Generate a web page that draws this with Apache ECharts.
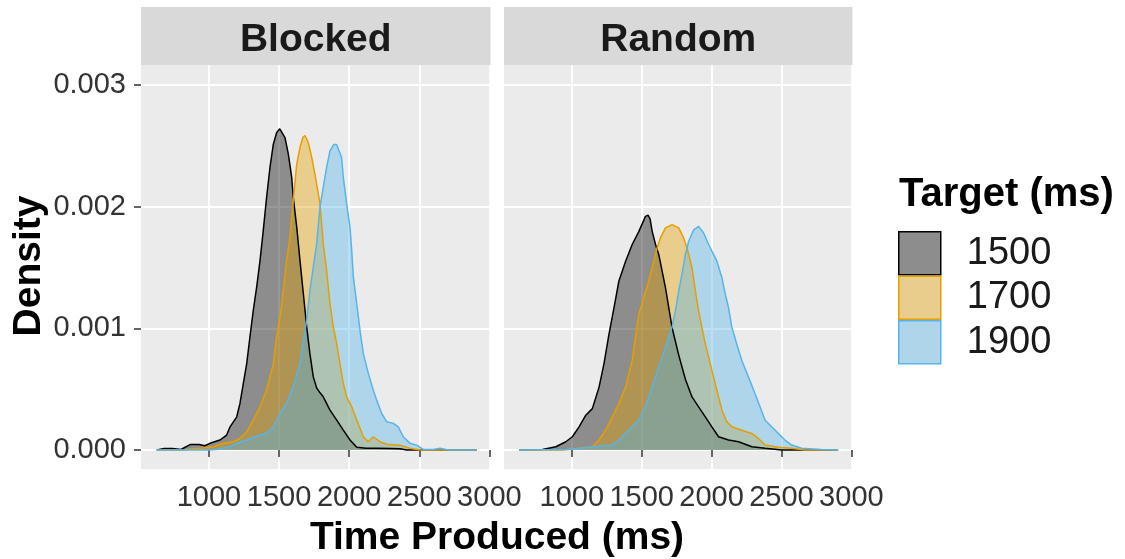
<!DOCTYPE html>
<html>
<head>
<meta charset="utf-8">
<script src="https://cdn.jsdelivr.net/npm/echarts@6/dist/echarts.min.js"></script>
<style>
  html, body { margin: 0; padding: 0; background: #fff; }
  #chart { width: 1125px; height: 559px; }
</style>
</head>
<body>
<div id="chart"></div>
<script>
// facets, targets, ticks
var facets = ['Blocked', 'Random'];
var targets = ['1500', '1700', '1900'];
var xTicks = [1000, 1500, 2000, 2500, 3000];
var yTicks = [0, 0.001, 0.002, 0.003];

// Blocked, target 1500
var xB1500 = [627, 680, 740, 800, 865, 930, 970, 1007, 1078, 1126, 1150, 1198, 1221, 1245, 1269, 1292, 1316, 1340, 1364, 1387, 1411, 1435, 1459, 1483, 1505, 1519, 1542, 1566, 1590, 1601, 1626, 1649, 1673, 1697, 1720, 1744, 1768, 1792, 1815, 1863, 1911, 1958, 2006, 2054, 2120, 2196, 2290, 2362, 2410, 2910];
var dB1500 = [0, 0.000012, 0.000012, 0.000004, 0.000045, 0.000045, 0.000035, 0.000055, 0.000082, 0.000123, 0.00019, 0.000273, 0.000383, 0.000547, 0.00071, 0.000929, 0.001148, 0.001339, 0.001557, 0.001803, 0.002077, 0.002322, 0.002514, 0.002609, 0.00264, 0.00263, 0.002568, 0.002432, 0.00224, 0.002077, 0.00183, 0.001557, 0.001284, 0.001011, 0.00079, 0.000601, 0.00051, 0.00047, 0.000437, 0.000328, 0.000246, 0.000164, 0.000082, 0.000022, 0.000015, 0.000015, 0.000012, 0.00001, 0, 0];

// Blocked, target 1700
var xB1700 = [627, 817, 870, 936, 1031, 1102, 1173, 1221, 1269, 1316, 1364, 1411, 1459, 1483, 1507, 1530, 1554, 1578, 1601, 1626, 1649, 1670, 1685, 1708, 1733, 1755, 1768, 1792, 1815, 1839, 1863, 1887, 1911, 1934, 1958, 1982, 2018, 2054, 2101, 2137, 2172, 2220, 2268, 2362, 2434, 2505, 2910];
var dB1700 = [0, 0, 0.000008, 0.000014, 0.000027, 0.000055, 0.000068, 0.000096, 0.00015, 0.000246, 0.000355, 0.000492, 0.00071, 0.000929, 0.001093, 0.001311, 0.001557, 0.001749, 0.002049, 0.00235, 0.002486, 0.00257, 0.002585, 0.002527, 0.002404, 0.00227, 0.002186, 0.002022, 0.001694, 0.001475, 0.001202, 0.001011, 0.000874, 0.00071, 0.000547, 0.000437, 0.000355, 0.000246, 0.000109, 0.000068, 0.000109, 0.000068, 0.000047, 0.00004, 0.000014, 0, 0];

// Blocked, target 1900
var xB1900 = [627, 1000, 1055, 1150, 1198, 1269, 1364, 1411, 1459, 1507, 1554, 1601, 1649, 1673, 1697, 1720, 1744, 1768, 1780, 1792, 1815, 1839, 1863, 1890, 1910, 1922, 1946, 1958, 1982, 2006, 2018, 2030, 2054, 2077, 2101, 2137, 2172, 2196, 2232, 2268, 2315, 2350, 2386, 2434, 2481, 2529, 2600, 2648, 2690, 2719, 2910];
var dB1900 = [0, 0, 0.000005, 0.000027, 0.000055, 0.000082, 0.000123, 0.000137, 0.00019, 0.0003, 0.000383, 0.000519, 0.00071, 0.000902, 0.001066, 0.001311, 0.001503, 0.001694, 0.00185, 0.002, 0.002158, 0.002322, 0.002459, 0.00251, 0.00251, 0.0025, 0.002404, 0.00224, 0.002022, 0.00183, 0.001639, 0.00142, 0.001202, 0.000984, 0.000792, 0.000628, 0.000492, 0.00041, 0.0003, 0.000232, 0.000219, 0.00019, 0.000109, 0.000055, 0.00004, 0.000005, 0.000005, 0.000014, 0.000005, 0, 0];

// Random, target 1500
var xR1500 = [624, 790, 886, 957, 1004, 1052, 1100, 1147, 1195, 1230, 1266, 1302, 1337, 1385, 1432, 1480, 1527, 1545, 1560, 1575, 1599, 1622, 1670, 1717, 1765, 1813, 1860, 1907, 1955, 2002, 2050, 2121, 2193, 2288, 2383, 2501, 2905];
var dR1500 = [0, 0.000005, 0.000027, 0.000068, 0.000109, 0.00019, 0.000286, 0.00034, 0.000517, 0.000708, 0.000953, 0.001171, 0.001389, 0.001552, 0.001689, 0.001797, 0.00192, 0.00193, 0.0019, 0.001797, 0.001689, 0.001607, 0.001334, 0.001007, 0.00078, 0.00058, 0.000436, 0.000354, 0.000272, 0.00019, 0.000109, 0.000082, 0.000068, 0.000027, 0.000014, 0, 0];

// Random, target 1700
var xR1700 = [624, 933, 1052, 1147, 1195, 1242, 1290, 1337, 1385, 1432, 1456, 1480, 1515, 1551, 1587, 1610, 1634, 1670, 1717, 1765, 1800, 1824, 1860, 1884, 1907, 1931, 1955, 1979, 2002, 2026, 2050, 2074, 2109, 2145, 2216, 2288, 2335, 2383, 2478, 2573, 2668, 2905];
var dR1700 = [0, 0, 0.000014, 0.000027, 0.000082, 0.000163, 0.000272, 0.000381, 0.000517, 0.000735, 0.000926, 0.001117, 0.001253, 0.001389, 0.001552, 0.001661, 0.001743, 0.001825, 0.001852, 0.001825, 0.001743, 0.001661, 0.001498, 0.001307, 0.001144, 0.001008, 0.000871, 0.000763, 0.000654, 0.000545, 0.000436, 0.000327, 0.000231, 0.000191, 0.000163, 0.000136, 0.000095, 0.000041, 0.000022, 0.000014, 0, 0];

// Random, target 1900
var xR1900 = [624, 981, 1171, 1290, 1337, 1385, 1432, 1480, 1527, 1575, 1622, 1670, 1717, 1741, 1765, 1789, 1813, 1836, 1872, 1907, 1943, 1979, 2002, 2038, 2074, 2098, 2121, 2145, 2180, 2216, 2264, 2311, 2347, 2383, 2430, 2478, 2525, 2573, 2644, 2786, 2905];
var dR1900 = [0, 0.000005, 0.000027, 0.000041, 0.000082, 0.000136, 0.000191, 0.000245, 0.000354, 0.000517, 0.000681, 0.000844, 0.001008, 0.001144, 0.001307, 0.00145, 0.00161, 0.001716, 0.00181, 0.001838, 0.001784, 0.001689, 0.001634, 0.001552, 0.001416, 0.00128, 0.001171, 0.001008, 0.000871, 0.000735, 0.000599, 0.000463, 0.000354, 0.000245, 0.000191, 0.000136, 0.000082, 0.000041, 0.000014, 0.000005, 0];

var curves = [
  [[xB1500, dB1500], [xB1700, dB1700], [xB1900, dB1900]],
  [[xR1500, dR1500], [xR1700, dR1700], [xR1900, dR1900]]
];

var lineColors = ['#000000', '#E69F00', '#56B4E9'];
var keyFills = ['#8D8D8D', '#E9CD8D', '#AFD5EA'];
var font = 'Liberation Sans, Arial, sans-serif';

function pairs(xs, ys) {
  var out = [];
  for (var i = 0; i < xs.length; i++) out.push([xs[i], ys[i]]);
  return out;
}

var panels = [
  { left: 141, width: 349.5 },
  { left: 504, width: 348.5 }
];

var series = [];
facets.forEach(function (f, fi) {
  targets.forEach(function (t, ti) {
    series.push({
      name: t,
      type: 'line',
      xAxisIndex: fi,
      yAxisIndex: fi,
      data: pairs(curves[fi][ti][0], curves[fi][ti][1]),
      showSymbol: false,
      symbol: 'none',
      smooth: false,
      lineStyle: { color: lineColors[ti], width: 1.5 },
      itemStyle: { color: lineColors[ti] },
      areaStyle: { color: lineColors[ti], opacity: 0.4 }
    });
  });
});

var graphics = [];
facets.forEach(function (f, fi) {
  var p = panels[fi];
  graphics.push({
    type: 'rect', silent: true,
    shape: { x: p.left, y: 7, width: p.width, height: 58 },
    style: { fill: '#D9D9D9' }
  });
  graphics.push({
    type: 'text', silent: true,
    x: p.left + p.width / 2, y: 40,
    style: { text: f, fill: '#1A1A1A', font: 'bold 39px ' + font, align: 'center', verticalAlign: 'middle' }
  });
});
graphics.push({
  type: 'text', silent: true, x: 497, y: 538,
  style: { text: 'Time Produced (ms)', fill: '#000', font: 'bold 39px ' + font, align: 'center', verticalAlign: 'middle' }
});
graphics.push({
  type: 'text', silent: true, x: 29.5, y: 266, rotation: Math.PI / 2,
  style: { text: 'Density', fill: '#000', font: 'bold 39px ' + font, align: 'center', verticalAlign: 'middle' }
});
graphics.push({
  type: 'text', silent: true, x: 899, y: 195,
  style: { text: 'Target (ms)', fill: '#000', font: 'bold 40px ' + font, align: 'left', verticalAlign: 'middle' }
});

var myChart = echarts.init(document.getElementById('chart'));
var option = {
  animation: false,
  backgroundColor: '#fff',
  grid: panels.map(function (p) {
    return { left: p.left, width: p.width, top: 65, height: 404, show: true, backgroundColor: '#EBEBEB', borderWidth: 0 };
  }),
  xAxis: panels.map(function (p, i) {
    return {
      type: 'value', gridIndex: i, min: 515, max: 3008,
      axisLine: { show: false },
      axisTick: { show: true, length: 7, customValues: xTicks, lineStyle: { color: '#333', width: 1.5 } },
      axisLabel: {
        customValues: xTicks, fontSize: 29, fontFamily: font, color: '#333', margin: 14,
        formatter: function (v) { return String(v); }
      },
      splitLine: { show: true, lineStyle: { color: '#fff', width: 1.8 } }
    };
  }),
  yAxis: panels.map(function (p, i) {
    return {
      type: 'value', gridIndex: i, min: -0.000156, max: 0.003164,
      axisLine: { show: false },
      axisTick: { show: i === 0, length: 7, customValues: yTicks, lineStyle: { color: '#333', width: 1.5 } },
      axisLabel: {
        show: i === 0, customValues: yTicks, fontSize: 29, fontFamily: font, color: '#333', margin: 15,
        formatter: function (v) { return v.toFixed(3); }
      },
      splitLine: { show: true, lineStyle: { color: '#fff', width: 1.8 } }
    };
  }),
  legend: {
    orient: 'vertical', left: 898, top: 231, padding: 0,
    itemWidth: 42, itemHeight: 43, itemGap: 0, icon: 'rect', selectedMode: false,
    textStyle: { fontSize: 38, fontFamily: font, color: '#1A1A1A', lineHeight: 43, padding: [0, 0, 0, 21] },
    data: targets.map(function (t, ti) {
      return { name: t, itemStyle: { color: keyFills[ti], borderColor: lineColors[ti], borderWidth: 1.5 } };
    })
  },
  graphic: graphics,
  series: series
};
myChart.setOption(option);
</script>
</body>
</html>
